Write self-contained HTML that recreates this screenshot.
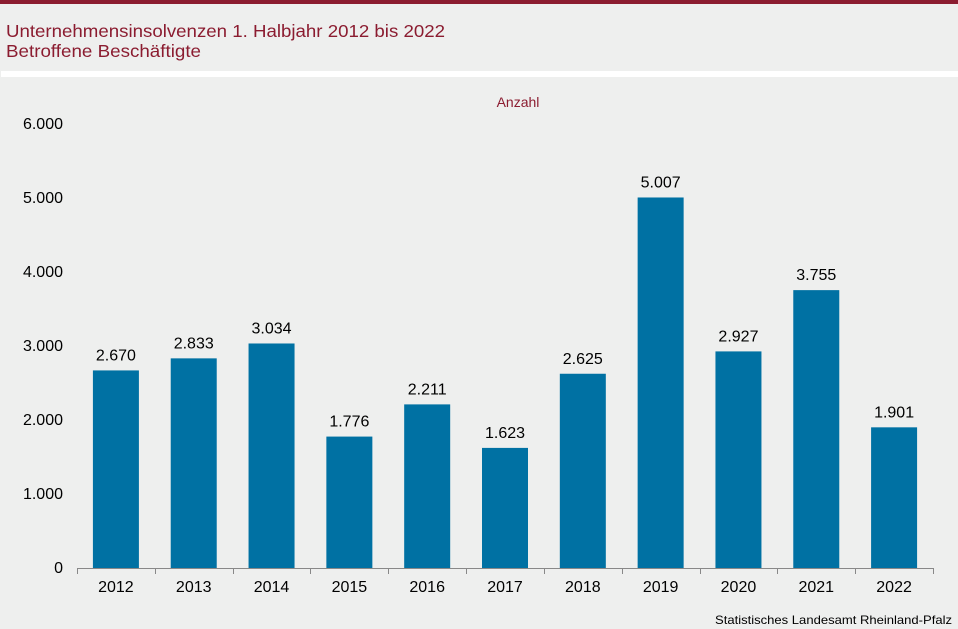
<!DOCTYPE html>
<html><head><meta charset="utf-8"><style>
body{margin:0;width:958px;height:629px;background:#eeefee;overflow:hidden;font-family:"Liberation Sans",sans-serif}
</style></head><body>
<svg width="958" height="629" style="position:absolute;left:0;top:0">
<rect x="0" y="0" width="958" height="4" fill="#8b1c30"/>
<rect x="1" y="71" width="957" height="6" fill="#ffffff"/>
<text x="6" y="37" font-size="17.5" fill="#8b1c30" textLength="439" lengthAdjust="spacingAndGlyphs">Unternehmensinsolvenzen 1. Halbjahr 2012 bis 2022</text>
<text x="6" y="57" font-size="17.5" fill="#8b1c30" textLength="195" lengthAdjust="spacingAndGlyphs">Betroffene Beschäftigte</text>
<text x="518" y="107" font-size="14" fill="#8b1c30" text-anchor="middle">Anzahl</text>
<text x="715" y="624" font-size="12" fill="#000" textLength="237" lengthAdjust="spacingAndGlyphs">Statistisches Landesamt Rheinland-Pfalz</text>
<g id="plot"></g>
</svg>
<script>
const categories=["2012","2013","2014","2015","2016","2017","2018","2019","2020","2021","2022"];
const values=[2670,2833,3034,1776,2211,1623,2625,5007,2927,3755,1901];
const valueLabels=["2.670","2.833","3.034","1.776","2.211","1.623","2.625","5.007","2.927","3.755","1.901"];
const yTicks=[0,1000,2000,3000,4000,5000,6000];
const yTickLabels=["0","1.000","2.000","3.000","4.000","5.000","6.000"];
const NS="http://www.w3.org/2000/svg";
const g=document.getElementById('plot');
const x0=77,x1=933,yBase=568,yTop=124,yMax=6000;
const step=(x1-x0)/categories.length;
const y=v=>yBase-(v/yMax)*(yBase-yTop);
const xc=i=>x0+step*(i+0.5);
function mk(t,a){const e=document.createElementNS(NS,t);for(const k in a)e.setAttribute(k,a[k]);g.appendChild(e);return e;}
yTicks.forEach((v,i)=>{
 const t=mk('text',{x:63,y:y(v)+5,'font-size':16,'text-anchor':'end',fill:'#000'});
 t.textContent=yTickLabels[i];
 
 
});
values.forEach((v,i)=>{
 const r=mk('rect',{x:xc(i)-23,y:y(v),width:46,height:yBase-y(v),fill:'#0071a3'});
 
 
 const t=mk('text',{x:xc(i),y:y(v)-10,'font-size':16,'text-anchor':'middle',fill:'#000'});
 t.textContent=valueLabels[i];
 
 
 const c=mk('text',{x:xc(i),y:yBase+24,'font-size':16,'text-anchor':'middle',fill:'#000'});
 c.textContent=categories[i];
 
 
});
const ax=mk('line',{x1:x0,y1:yBase+0.5,x2:x1,y2:yBase+0.5,stroke:'#888','stroke-width':1});


for(let i=0;i<=categories.length;i++){
 const xx=Math.round(x0+step*i)+0.5;
 const tk=mk('line',{x1:xx,y1:yBase,x2:xx,y2:yBase+6,stroke:'#888','stroke-width':1});
 
 
}
</script>
</body></html>
